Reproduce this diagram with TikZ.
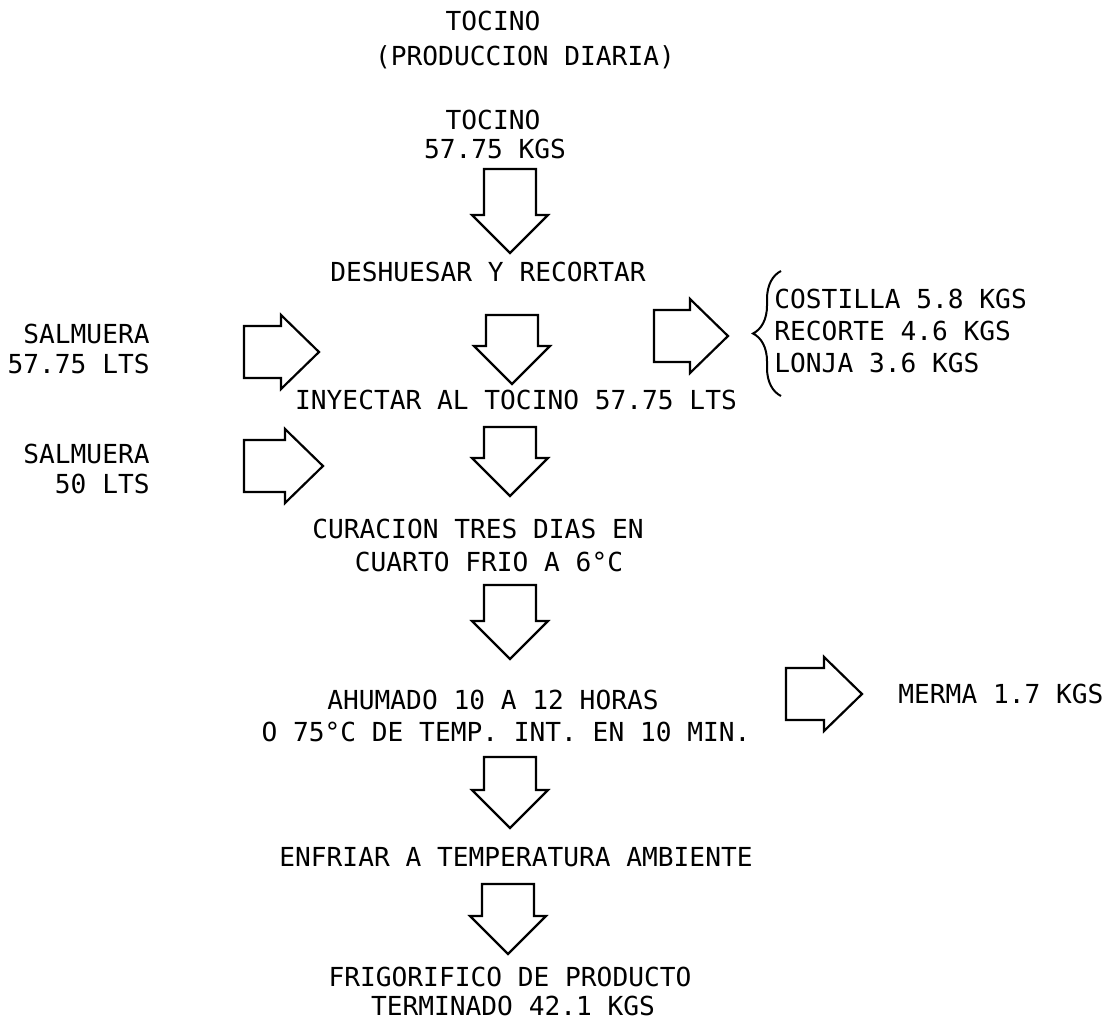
\documentclass[tikz,border=0pt]{standalone}
\usepackage{fontspec}
\setmonofont{DejaVu Sans Mono}
\usetikzlibrary{decorations.pathreplacing}

\tikzset{
    texto/.style={font=\ttfamily\fontsize{13.1}{15}\selectfont, inner sep=0pt, anchor=base},
    flecha/.style={line width=1.1pt, line join=miter},
    pics/flechaabajo/.style={code={
        \draw[flecha] (-26,0) -- (26,0) -- (26,#1-38) -- (38,#1-38) -- (0,#1)
            -- (-38,#1-38) -- (-26,#1-38) -- cycle;}},
    pics/flechader/.style={code={
        \draw[flecha] (0,-26) -- (#1-38,-26) -- (#1-38,-37) -- (#1,0)
            -- (#1-38,37) -- (#1-38,26) -- (0,26) -- cycle;}}
}

\begin{document}
\begin{tikzpicture}[x=0.5pt, y=-0.5pt]
            \fill[white] (0,0) rectangle (1117,1022);

            % Draw nodes
            \node[texto] (tit) at (493,30.5) {TOCINO};
            \node[texto] (prod) at (525,65.5) {(PRODUCCION DIARIA)};
            \node[texto] (toc) at (493,129.5) {TOCINO};
            \node[texto] (kgs) at (495,158.5) {57.75 KGS};
            \node[texto] (desh) at (488,281.5) {DESHUESAR Y RECORTAR};
            \node[texto, anchor=base east] (salA) at (150,343.5) {SALMUERA};
            \node[texto, anchor=base east] (ltsA) at (150,373.5) {57.75 LTS};
            \node[texto] (iny) at (516,409.5) {INYECTAR AL TOCINO 57.75 LTS};
            \node[texto, anchor=base west] (cost) at (774,308.5) {COSTILLA 5.8 KGS};
            \node[texto, anchor=base west] (rec) at (774,340.5) {RECORTE 4.6 KGS};
            \node[texto, anchor=base west] (lonja) at (774,372.5) {LONJA 3.6 KGS};
            \node[texto, anchor=base east] (salB) at (150,463.5) {SALMUERA};
            \node[texto, anchor=base east] (ltsB) at (150,493.5) {50 LTS};
            \node[texto] (curA) at (478,538.5) {CURACION TRES DIAS EN};
            \node[texto] (curB) at (489,571.5) {CUARTO FRIO A 6°C};
            \node[texto] (ahuA) at (493,709.5) {AHUMADO 10 A 12 HORAS};
            \node[texto] (ahuB) at (506,741.5) {O 75°C DE TEMP. INT. EN 10 MIN.};
            \node[texto, anchor=base west] (merma) at (898,703.5) {MERMA 1.7 KGS};
            \node[texto] (enf) at (516,866.5) {ENFRIAR A TEMPERATURA AMBIENTE};
            \node[texto] (frigA) at (510,986.5) {FRIGORIFICO DE PRODUCTO};
            \node[texto] (frigB) at (513,1015.5) {TERMINADO 42.1 KGS};

            % Draw arrows
            \pic at (510,169) {flechaabajo=84};
            \pic at (512,315) {flechaabajo=69};
            \pic at (510,427) {flechaabajo=69};
            \pic at (510,585) {flechaabajo=74};
            \pic at (510,757) {flechaabajo=71};
            \pic at (508,884) {flechaabajo=70};
            \pic at (244,352) {flechader=75};
            \pic at (244,466) {flechader=79};
            \pic at (654,336) {flechader=74};
            \pic at (786,694) {flechader=76};

            % Draw brace
            \draw[line width=1pt, decorate, decoration={brace, amplitude=14pt}] (781,396) -- (781,271);
        \end{tikzpicture}
\end{document}
